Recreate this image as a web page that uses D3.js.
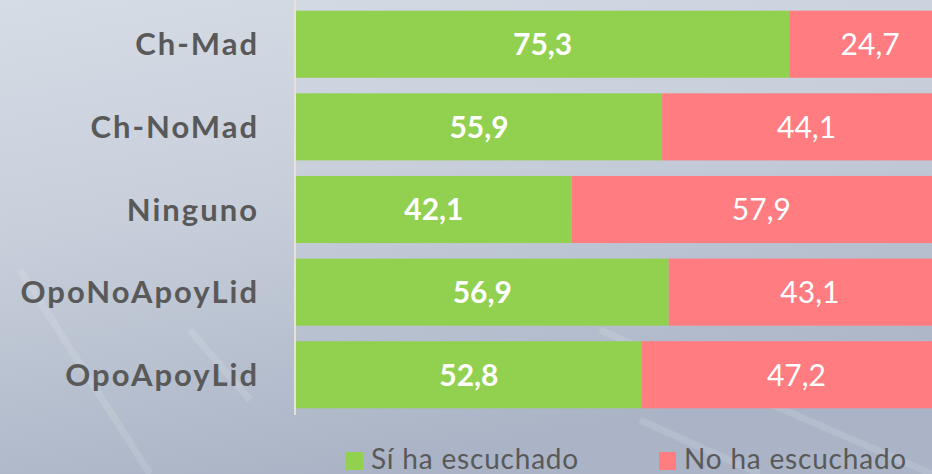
<!DOCTYPE html>
<html>
<head>
<meta charset="utf-8">
<script src="https://cdn.jsdelivr.net/npm/d3@7"></script>
<style>
html,body{margin:0;padding:0;overflow:hidden;}
svg{display:block;}
</style>
</head>
<body>
<script>
const categories = ["Ch-Mad", "Ch-NoMad", "Ninguno", "OpoNoApoyLid", "OpoApoyLid"];
const siValues = [75.3, 55.9, 42.1, 56.9, 52.8];
const noValues = [24.7, 44.1, 57.9, 43.1, 47.2];
const seriesNames = ["Sí ha escuchado", "No ha escuchado"];
const seriesColors = ["#92d050", "#ff7c80"];

const W = 932, H = 474;
const svg = d3.select("body").append("svg").attr("width", W).attr("height", H);

// background (foggy gradient)
const defs = svg.append("defs");
const bg = defs.append("linearGradient").attr("id", "bg")
  .attr("x1", "0").attr("y1", "0").attr("x2", "0.35").attr("y2", "1");
bg.append("stop").attr("offset", "0%").attr("stop-color", "#d6dce5");
bg.append("stop").attr("offset", "45%").attr("stop-color", "#c8cfdb");
bg.append("stop").attr("offset", "100%").attr("stop-color", "#aab4c6");
svg.append("rect").attr("width", W).attr("height", H).attr("fill", "url(#bg)");
const streaks = [[20, 270, 150, 474], [190, 330, 250, 400], [600, 330, 932, 474], [640, 420, 760, 474]];
svg.append("g").selectAll("line").data(streaks).join("line")
  .attr("x1", d => d[0]).attr("y1", d => d[1]).attr("x2", d => d[2]).attr("y2", d => d[3])
  .attr("stroke", "#ffffff").attr("stroke-opacity", 0.12).attr("stroke-width", 7);

const x = d3.scaleLinear().domain([0, 100]).range([296, 951]);
const y = d3.scaleBand().domain(categories).range([2.9, 416.1])
  .paddingInner(0.188).paddingOuter(0.094);

const rows = categories.map((c, i) => ({cat: c, si: siValues[i], no: noValues[i]}));
const stack = d3.stack().keys(["si", "no"])(rows);

const g = svg.append("g");
stack.forEach((layer, li) => {
  g.append("g").selectAll("rect").data(layer).join("rect")
    .attr("x", d => x(d[0]))
    .attr("y", d => y(d.data.cat))
    .attr("width", d => x(d[1]) - x(d[0]))
    .attr("height", y.bandwidth())
    .attr("fill", seriesColors[li]);
  g.append("g").selectAll("text").data(layer).join("text")
    .attr("x", d => (x(d[0]) + x(d[1])) / 2)
    .attr("y", d => y(d.data.cat) + y.bandwidth() / 2)
    .attr("dy", "0.36em")
    .attr("text-anchor", "middle")
    .attr("fill", "#ffffff")
    .attr("font-family", "Lato, 'Open Sans', sans-serif")
    .attr("font-size", 30)
    .attr("font-weight", li === 0 ? "bold" : "normal")
    .text(d => d3.format(".1f")(d[1] - d[0]).replace(".", ","));
});

// axis
const yAxis = d3.axisLeft(y).tickSize(0).tickPadding(36);
const ax = svg.append("g").attr("transform", "translate(295,0)").call(yAxis);
ax.select(".domain").attr("stroke", "#e6e2d8").attr("stroke-width", 2).attr("d", "M0,0V415");
ax.selectAll("text")
  .attr("fill", "#595959")
  .attr("font-family", "Lato, 'Open Sans', sans-serif")
  .attr("font-size", 31)
  .attr("font-weight", "bold")
  .attr("letter-spacing", 2)
  .attr("dy", "0.36em");

// legend
const legendX = [346, 659];
const lg = svg.append("g").selectAll("g").data(seriesNames).join("g")
  .attr("transform", (d, i) => `translate(${legendX[i]},0)`);
lg.append("rect").attr("x", 0).attr("y", 452).attr("width", 17).attr("height", 18)
  .attr("fill", (d, i) => seriesColors[i]);
lg.append("text").attr("x", 25).attr("y", 469)
  .attr("fill", "#595959")
  .attr("font-family", "Lato, 'Open Sans', sans-serif")
  .attr("font-size", 28)
  .attr("letter-spacing", 0.8)
  .text(d => d);
</script>
</body>
</html>
